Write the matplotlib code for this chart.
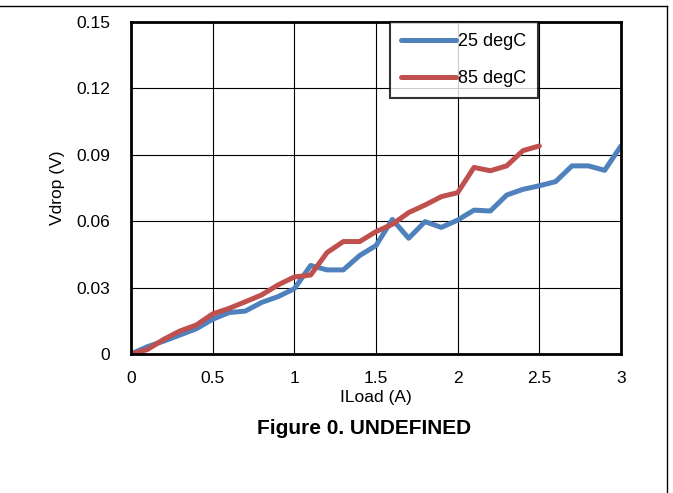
import matplotlib
matplotlib.use("Agg")
import matplotlib.pyplot as plt
from matplotlib.lines import Line2D

plt.rcParams['font.family'] = ['Liberation Sans', 'DejaVu Sans']

# load current (A)
iload_25 = [0.0, 0.1, 0.2, 0.3, 0.4, 0.5, 0.6, 0.7, 0.8, 0.9, 1.0,
            1.1, 1.2, 1.3, 1.4, 1.5, 1.6, 1.7, 1.8, 1.9, 2.0,
            2.1, 2.2, 2.3, 2.4, 2.5, 2.6, 2.7, 2.8, 2.9, 3.0]
vdrop_25 = [0.0, 0.0033, 0.0058, 0.0086, 0.0114, 0.0157, 0.0187, 0.0194, 0.0233, 0.0259, 0.0295,
            0.0400, 0.0380, 0.0380, 0.0445, 0.0490, 0.0608, 0.0523, 0.0598, 0.0572, 0.0605,
            0.0650, 0.0646, 0.0718, 0.0744, 0.0760, 0.0779, 0.0850, 0.0850, 0.0830, 0.0940]

iload_85 = [0.0, 0.1, 0.2, 0.3, 0.4, 0.5, 0.6, 0.7, 0.8, 0.9, 1.0,
            1.1, 1.2, 1.3, 1.4, 1.5, 1.6, 1.7, 1.8, 1.9, 2.0,
            2.1, 2.2, 2.3, 2.4, 2.5]
vdrop_85 = [0.0, 0.0020, 0.0066, 0.0104, 0.0131, 0.0181, 0.0206, 0.0236, 0.0267, 0.0312, 0.0348,
            0.0357, 0.0458, 0.0508, 0.0508, 0.0553, 0.0586, 0.0639, 0.0673, 0.0711, 0.0729,
            0.0843, 0.0828, 0.0850, 0.0919, 0.0940]

x_ticks = [0, 0.5, 1, 1.5, 2, 2.5, 3]
x_labels = ['0', '0.5', '1', '1.5', '2', '2.5', '3']
y_ticks = [0, 0.03, 0.06, 0.09, 0.12, 0.15]
y_labels = ['0', '0.03', '0.06', '0.09', '0.12', '0.15']

fig = plt.figure(figsize=(6.73, 4.93), dpi=100)
ax = fig.add_axes([131 / 673, 1 - 354 / 493, 490 / 673, 332 / 493])

ax.plot(iload_25, vdrop_25, color='#4F81BD', lw=3.6, label='25 degC', solid_capstyle='round')
ax.plot(iload_85, vdrop_85, color='#C0504D', lw=3.6, label='85 degC', solid_capstyle='round')

ax.set_xlim(0, 3)
ax.set_ylim(0, 0.15)
ax.set_xticks(x_ticks)
ax.set_xticklabels(x_labels)
ax.set_yticks(y_ticks)
ax.set_yticklabels(y_labels)
ax.tick_params(length=0, labelsize=12.5)
ax.tick_params(axis='x', pad=12)
ax.tick_params(axis='y', pad=15)
ax.grid(True, color='black', lw=0.8)
ax.set_axisbelow(True)
for s in ax.spines.values():
    s.set_linewidth(2)
    s.set_color('black')

ax.set_xlabel('ILoad (A)', fontsize=12.5, labelpad=3)
ax.set_ylabel('Vdrop (V)', fontsize=12.5, labelpad=8)

leg = ax.legend(loc='upper left', bbox_to_anchor=(0.529, 1.0), frameon=True, fancybox=False,
                fontsize=13, handlelength=3.0, handletextpad=0.15, labelspacing=1.1,
                borderpad=0.62, borderaxespad=0)
leg.get_frame().set_edgecolor('black')
leg.get_frame().set_linewidth(1.5)

fig.text(364 / 673, 1 - 429 / 493, 'Figure 0. UNDEFINED', ha='center', va='center',
         fontsize=15, fontweight='bold')

# page frame
fig.add_artist(Line2D([0, 667 / 673], [1 - 6 / 493, 1 - 6 / 493], color='black', lw=1))
fig.add_artist(Line2D([667 / 673, 667 / 673], [0, 1 - 6 / 493], color='black', lw=1))

fig.savefig('out.png', dpi=100)
